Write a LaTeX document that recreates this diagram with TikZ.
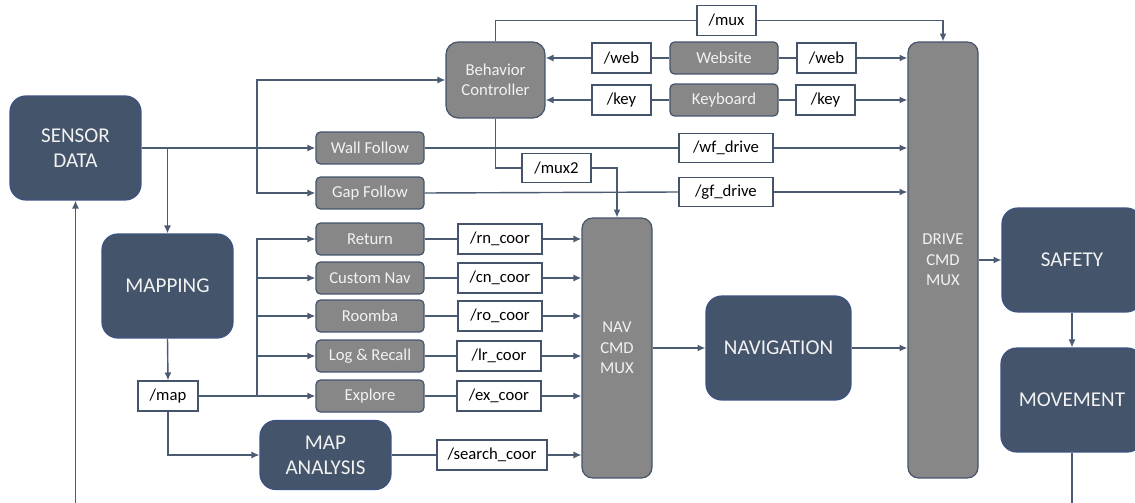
\documentclass[tikz,border=0pt]{standalone}
\usepackage{fontspec}
\setmainfont{Carlito}
\usepackage{tikz}
\usetikzlibrary{arrows.meta}

\definecolor{slate}{HTML}{44546A}
\definecolor{slateedge}{HTML}{3B5283}
\definecolor{boxgray}{HTML}{878787}
\definecolor{wire}{HTML}{4A5B72}

\begin{document}
\begin{tikzpicture}[x=0.02cm, y=-0.02cm,
  bigbox/.style={draw=slateedge, line width=0.7pt, fill=slate, rounded corners=9pt, text=white!95!black,
    align=center, inner sep=0pt, font=\fontsize{12}{14.2}\selectfont, minimum width=2.62cm, minimum height=2.08cm},
  task/.style={draw=slate, line width=0.7pt, fill=boxgray, rounded corners=2.5pt, text=white!95!black,
    inner sep=0pt, font=\fontsize{9.5}{11.6}\selectfont, minimum width=2.16cm, minimum height=0.64cm},
  muxbox/.style={draw=slate, line width=0.7pt, fill=boxgray, rounded corners=6pt, text=white!95!black,
    align=center, inner sep=0pt, font=\fontsize{9.5}{11.6}\selectfont, minimum width=1.4cm},
  topic/.style={draw=slate, line width=0.7pt, fill=white, text=black, inner sep=0pt,
    font=\fontsize{9.5}{11.6}\selectfont, minimum width=1.18cm, minimum height=0.6cm},
  wire/.style={draw=wire, line width=0.8pt},
  arr/.style={wire, -{Latex[length=4.5pt,width=4pt]}}]

\useasboundingbox (0,0) rectangle (1135,503);
\clip (0,0) rectangle (1135,503);
%\draw [help lines, step=50] (0,0) grid (1135,503);

\node [bigbox] (sensor) at (75.5,148) {SENSOR\\DATA};
\node [bigbox] (mapping) at (167.5,286) {MAPPING};
\node [topic, minimum width=1.2cm] (map) at (168,396) {/map};
\node [bigbox, minimum height=1.38cm] (analysis) at (325.5,455) {MAP\\ANALYSIS};

\node [task] (wall) at (370,148) {Wall Follow};
\node [task] (gap) at (370,193) {Gap Follow};
\node [task] (return) at (370,239) {Return};
\node [task] (custom) at (370,278) {Custom Nav};
\node [task] (roomba) at (370,316) {Roomba};
\node [task] (logrecall) at (370,356) {Log \& Recall};
\node [task] (explore) at (370,396) {Explore};

\node [muxbox, rounded corners=7pt, minimum width=1.98cm, minimum height=1.52cm] (behavior) at (495.5,80) {Behavior\\Controller};
\node [task] (website) at (724,58) {Website};
\node [task] (keyboard) at (724,100) {Keyboard};

\node [topic] (mux) at (726.5,20.5) {/mux};
\node [topic] (webin) at (621.5,58) {/web};
\node [topic] (keyin) at (621.5,100) {/key};
\node [topic] (webout) at (826.5,58) {/web};
\node [topic] (keyout) at (825.5,100) {/key};
\node [topic, minimum width=1.88cm, minimum height=0.58cm] (wfdrive) at (726,148) {/wf\_drive};
\node [topic, minimum width=1.88cm, minimum height=0.58cm] (gfdrive) at (726,192) {/gf\_drive};
\node [topic, minimum width=1.38cm, minimum height=0.58cm] (mux2) at (556.5,168) {/mux2};

\node [topic, minimum width=1.68cm] (rncoor) at (500,239) {/rn\_coor};
\node [topic, minimum width=1.68cm] (cncoor) at (500,278) {/cn\_coor};
\node [topic, minimum width=1.68cm] (rocoor) at (500,316) {/ro\_coor};
\node [topic, minimum width=1.68cm] (lrcoor) at (499,356) {/lr\_coor};
\node [topic, minimum width=1.68cm] (excoor) at (499,396) {/ex\_coor};
\node [topic, minimum width=2.2cm] (search) at (492,455) {/search\_coor};

\node [muxbox, minimum height=5.2cm] (navmux) at (617,348) {NAV\\CMD\\MUX};
\node [bigbox, minimum width=2.9cm] (navigation) at (778.5,348) {NAVIGATION};
\node [muxbox, minimum height=8.72cm] (drivemux) at (943,260) {DRIVE\\CMD\\MUX};
\node [bigbox, minimum width=2.8cm] (safety) at (1072,260) {SAFETY};
\node [bigbox, minimum width=2.84cm] (movement) at (1072,400) {MOVEMENT};

\coordinate (sj) at (257,148);
\coordinate (mj) at (257,396);

\draw [arr] (sensor.east) -- (wall.west);
\draw [arr] (mapping.north |- sensor.east) -- (mapping.north);
\draw [arr] (sj) |- (behavior.west);
\draw [arr] (sj) |- (gap.west);

\draw [arr] (mapping.south) -- (map.north);
\draw [arr] (map.east) -- (explore.west);
\draw [arr] (mj) |- (return.west);
\draw [arr] (mj) |- (custom.west);
\draw [arr] (mj) |- (roomba.west);
\draw [arr] (mj) |- (logrecall.west);
\draw [arr] (map.south) |- (analysis.west);

\draw [wire] (return.east) -- (rncoor.west);
\draw [wire] (custom.east) -- (cncoor.west);
\draw [wire] (roomba.east) -- (rocoor.west);
\draw [wire] (logrecall.east) -- (lrcoor.west);
\draw [wire] (explore.east) -- (excoor.west);
\draw [wire] (analysis.east) -- (search.west);
\draw [arr] (rncoor.east) -- (rncoor.east -| navmux.west);
\draw [arr] (cncoor.east) -- (cncoor.east -| navmux.west);
\draw [arr] (rocoor.east) -- (rocoor.east -| navmux.west);
\draw [arr] (lrcoor.east) -- (lrcoor.east -| navmux.west);
\draw [arr] (excoor.east) -- (excoor.east -| navmux.west);
\draw [arr] (search.east) -- (search.east -| navmux.west);

\draw [wire] (website.west) -- (webin.east);
\draw [wire] (keyboard.west) -- (keyin.east);
\draw [arr] (webin.west) -- (webin.west -| behavior.east);
\draw [arr] (keyin.west) -- (keyin.west -| behavior.east);
\draw [wire] (website.east) -- (webout.west);
\draw [wire] (keyboard.east) -- (keyout.west);
\draw [arr] (webout.east) -- (webout.east -| drivemux.west);
\draw [arr] (keyout.east) -- (keyout.east -| drivemux.west);

\draw [wire] (wall.east) -- (wfdrive.west);
\draw [wire] (gap.east) -- (gfdrive.west);
\draw [arr] (wfdrive.east) -- (wfdrive.east -| drivemux.west);
\draw [arr] (gfdrive.east) -- (gfdrive.east -| drivemux.west);

\draw [wire] (behavior.north) |- (mux.west);
\draw [arr] (mux.east) -| (drivemux.north);
\draw [wire] (behavior.south) |- (mux2.west);
\draw [arr] (mux2.east) -| (navmux.north);

\draw [arr] (navmux.east) -- (navigation.west);
\draw [arr] (navigation.east) -- (navigation.east -| drivemux.west);
\draw [arr] (drivemux.east) -- (safety.west);
\draw [arr] (safety.south) -- (movement.north);
\draw [arr] (movement.south) -- ++(0,130) -| (sensor.south);

\end{tikzpicture}
\end{document}
